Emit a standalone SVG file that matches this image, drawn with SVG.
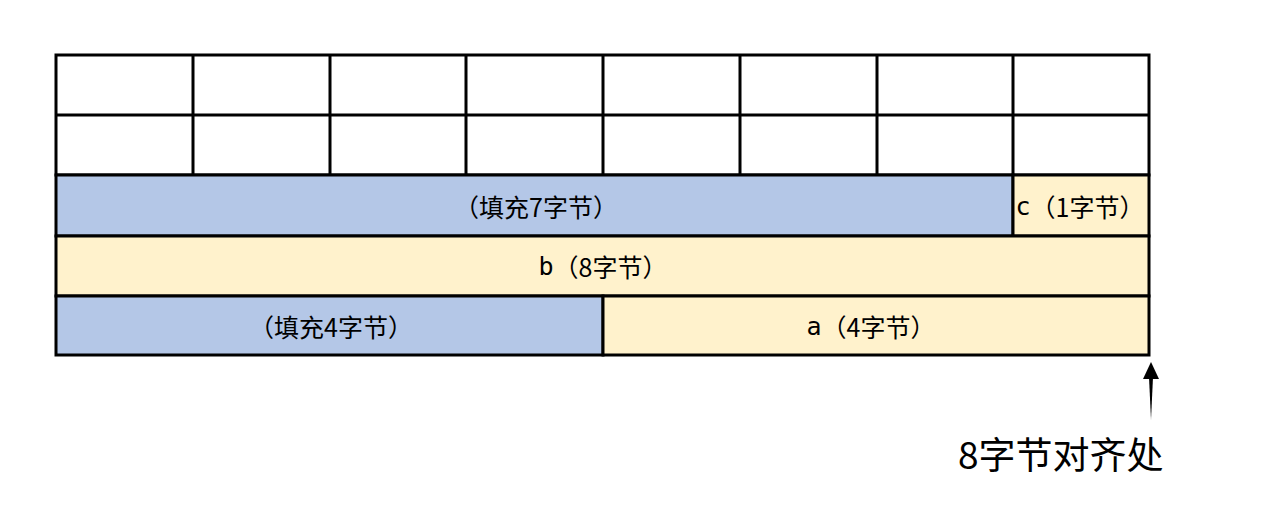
<svg xmlns="http://www.w3.org/2000/svg" width="1279" height="510" viewBox="0 0 1279 510">
<style>
.cell{stroke:#000;stroke-width:3}
.w{fill:#fff}
.pad{fill:#B4C7E7}
.dat{fill:#FFF2CC}
.t{font-family:"Noto Sans CJK SC","Noto Sans",sans-serif;font-size:25px;fill:#000;text-anchor:middle;dominant-baseline:central}
.m{font-family:"DejaVu Sans Mono",monospace}
.big{font-family:"Noto Sans CJK SC","Noto Sans",sans-serif;font-size:37px;fill:#000}
</style>
<rect width="1279" height="510" fill="#fff"/>
<g id="grid">
<rect class="cell w" x="56" y="55" width="1093" height="120"/>
<path class="cell" d="M56 115H1149M193 55V175M330 55V175M466 55V175M603 55V175M740 55V175M877 55V175M1013 55V175" fill="none"/>
</g>
<g id="pad7"><rect class="cell pad" x="56" y="175" width="957" height="61"/><text class="t" x="536" y="206">（填充7字节）</text></g>
<g id="c"><rect class="cell dat" x="1013" y="175" width="136" height="61"/><text class="t" x="1080" y="206"><tspan class="m">c</tspan>（1字节）</text></g>
<g id="b"><rect class="cell dat" x="56" y="236" width="1093" height="60"/><text class="t" x="603" y="266"><tspan class="m">b</tspan>（8字节）</text></g>
<g id="pad4"><rect class="cell pad" x="56" y="296" width="547" height="59"/><text class="t" x="331" y="326">（填充4字节）</text></g>
<g id="a"><rect class="cell dat" x="603" y="296" width="546" height="59"/><text class="t" x="871" y="326"><tspan class="m">a</tspan>（4字节）</text></g>
<g id="connectors">
<path d="M1151 420L1149 377H1153Z" fill="#000"/>
<path d="M1151 362L1159 379H1143Z" fill="#000"/>
</g>
<g id="label"><text class="big" x="958" y="469">8字节对齐处</text></g>
</svg>
